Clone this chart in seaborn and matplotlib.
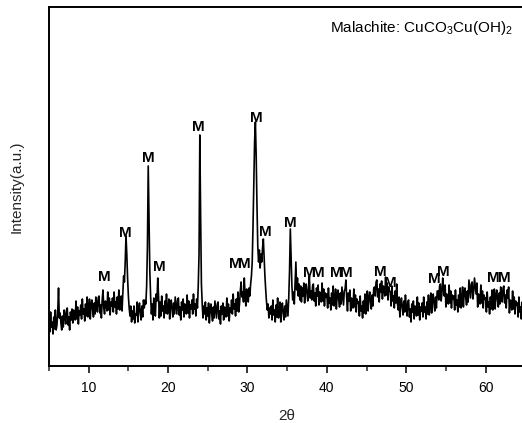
import numpy as np
import pandas as pd
import matplotlib
matplotlib.use("Agg")
import matplotlib.pyplot as plt
from matplotlib.ticker import MultipleLocator
import seaborn as sns

# Powder XRD pattern of malachite, 2-theta from 5 to 65 deg in 0.1 deg steps
two_theta_start = 5.0
two_theta_step = 0.1
intensity = [
    48, 34, 54, 39, 44, 32, 49, 37, 56, 36,            # 5
    41, 54, 78, 48, 53, 43, 36, 50, 39, 56,            # 6
    51, 42, 56, 58, 41, 49, 36, 54, 46, 57,            # 7
    43, 56, 54, 46, 65, 47, 59, 42, 55, 51,            # 8
    61, 47, 67, 52, 57, 45, 62, 50, 69, 49,            # 9
    54, 67, 47, 61, 66, 56, 49, 63, 52, 69,            # 10
    63, 54, 68, 70, 53, 61, 48, 66, 76, 58,            # 11
    52, 65, 63, 55, 74, 56, 68, 51, 64, 60,            # 12
    68, 54, 74, 59, 64, 52, 69, 57, 76, 56,            # 13
    59, 70, 55, 72, 90, 84, 104, 130, 112, 88,         # 14
    70, 58, 50, 60, 44, 55, 47, 60, 43, 52,            # 15
    51, 64, 44, 58, 63, 53, 46, 60, 49, 66,            # 16
    58, 66, 62, 80, 120, 200, 150, 95, 70, 52,         # 17
    62, 46, 68, 55, 50, 72, 65, 88, 70, 48,            # 18
    64, 50, 70, 55, 60, 48, 65, 53, 72, 52,            # 19
    54, 67, 47, 61, 66, 56, 49, 63, 52, 69,            # 20
    61, 52, 66, 68, 51, 59, 46, 64, 56, 67,            # 21
    49, 62, 60, 52, 71, 53, 65, 48, 61, 57,            # 22
    66, 52, 72, 57, 62, 50, 67, 58, 80, 112,           # 23
    231, 150, 82, 62, 48, 60, 52, 64, 46, 58,          # 24
    50, 63, 43, 57, 62, 52, 45, 59, 48, 65,            # 25
    57, 48, 62, 64, 47, 55, 42, 60, 52, 63,            # 26
    46, 59, 57, 49, 68, 50, 62, 45, 58, 54,            # 27
    66, 52, 72, 57, 62, 50, 67, 55, 74, 54,            # 28
    62, 75, 84, 69, 74, 64, 88, 71, 60, 77,            # 29
    72, 64, 78, 70, 82, 90, 104, 140, 185, 225,        # 30
    244, 210, 160, 120, 104, 116, 98, 112, 104, 118,   # 31
    127, 108, 90, 76, 64, 56, 62, 48, 58, 52,          # 32
    60, 46, 66, 51, 56, 44, 61, 49, 68, 48,            # 33
    51, 64, 44, 58, 63, 53, 46, 60, 49, 66,            # 34
    58, 50, 68, 95, 137, 110, 80, 66, 74, 62,          # 35
    84, 104, 76, 88, 70, 82, 66, 80, 64, 78,           # 36
    70, 83, 63, 77, 82, 72, 65, 79, 90, 68,            # 37
    75, 66, 80, 82, 65, 73, 60, 78, 70, 81,            # 38
    61, 74, 72, 64, 83, 65, 77, 60, 73, 69,            # 39
    72, 58, 78, 63, 68, 56, 73, 61, 80, 60,            # 40
    64, 77, 57, 71, 76, 66, 59, 73, 62, 79,            # 41
    70, 61, 75, 77, 86, 68, 55, 73, 65, 76,            # 42
    55, 68, 66, 58, 77, 59, 71, 54, 67, 63,            # 43
    64, 50, 70, 55, 60, 48, 65, 53, 72, 52,            # 44
    62, 75, 55, 69, 74, 64, 57, 71, 60, 77,            # 45
    79, 70, 84, 86, 69, 77, 64, 82, 74, 85,            # 46
    67, 80, 78, 70, 89, 71, 83, 66, 79, 75,            # 47
    74, 60, 80, 65, 70, 58, 75, 63, 82, 62,            # 48
    56, 69, 49, 63, 68, 58, 51, 65, 54, 71,            # 49
    59, 50, 64, 66, 49, 57, 44, 62, 54, 65,            # 50
    47, 60, 58, 50, 69, 51, 63, 46, 59, 55,            # 51
    63, 49, 69, 54, 59, 47, 64, 52, 71, 51,            # 52
    60, 73, 53, 67, 72, 62, 55, 69, 58, 75,            # 53
    75, 66, 80, 82, 65, 73, 88, 78, 70, 81,            # 54
    59, 72, 70, 62, 81, 63, 75, 58, 71, 67,            # 55
    70, 56, 76, 61, 66, 54, 71, 59, 78, 58,            # 56
    66, 79, 59, 73, 78, 68, 61, 75, 64, 86,            # 57
    77, 68, 82, 84, 67, 75, 88, 80, 72, 83,            # 58
    59, 72, 70, 62, 81, 63, 75, 58, 71, 67,            # 59
    68, 54, 74, 59, 64, 52, 69, 57, 76, 56,            # 60
    64, 77, 57, 71, 76, 66, 59, 73, 62, 79,            # 61
    73, 64, 78, 80, 63, 71, 58, 76, 68, 79,            # 62
    53, 66, 64, 56, 75, 57, 69, 52, 65, 61,            # 63
    63, 49, 69, 54, 59, 47, 64, 52, 71, 51,            # 64
    55,                                                # 65
]

# Malachite reflections marked with "M": (2-theta, label height)
m_positions = [11.94, 14.62, 17.52, 18.90, 23.82, 31.13, 32.26, 35.40,
               28.41, 29.61, 37.80, 38.94, 41.20, 42.45, 46.74, 47.97,
               53.54, 54.67, 60.97, 62.35]
m_heights = [89, 133, 208, 99, 239, 248, 134, 143,
             102, 102, 93, 93, 93, 93, 94, 83,
             87, 94, 88, 88]

x_ticks = [10, 20, 30, 40, 50, 60]

two_theta = two_theta_start + two_theta_step * np.arange(len(intensity))
df = pd.DataFrame({"two_theta": two_theta, "intensity": intensity})

sns.set_theme(style="ticks")
plt.rcParams["font.family"] = ["Liberation Sans", "DejaVu Sans"]
plt.rcParams["mathtext.fontset"] = "custom"
plt.rcParams["mathtext.rm"] = "Liberation Sans"
plt.rcParams["mathtext.it"] = "Liberation Sans"

fig = plt.figure(figsize=(5.22, 4.23), dpi=100)
ax = fig.add_axes([49 / 522, 57 / 423, (525.3 - 49) / 522, 359 / 423])

sns.lineplot(data=df, x="two_theta", y="intensity", color="black",
             linewidth=1.2, ax=ax)

for xm, ym in zip(m_positions, m_heights):
    ax.text(xm, ym, "M", ha="center", va="center", fontsize=11,
            fontweight="bold", color="black")

ax.text(0.974, 0.941, "Malachite: CuCO$_3$Cu(OH)$_2$", transform=ax.transAxes,
        ha="right", va="center", fontsize=11, color="black")

ax.set_xlim(5, 65)
ax.set_ylim(0, 359)
ax.set_xticks(x_ticks)
ax.xaxis.set_minor_locator(MultipleLocator(5))
ax.set_yticks([])
ax.tick_params(axis="x", which="major", direction="out", length=5, width=1.1,
               labelsize=10, pad=6, colors="black")
ax.tick_params(axis="x", which="minor", direction="out", length=3.5, width=1.1)
for side in ["left", "bottom", "top", "right"]:
    ax.spines[side].set_visible(True)
    ax.spines[side].set_linewidth(1.4)
    ax.spines[side].set_color("black")

ax.set_xlabel("2\u03b8", fontsize=11, labelpad=10)
ax.set_ylabel("Intensity(a.u.)", fontsize=11, labelpad=18)

fig.savefig("out.png", dpi=100)
